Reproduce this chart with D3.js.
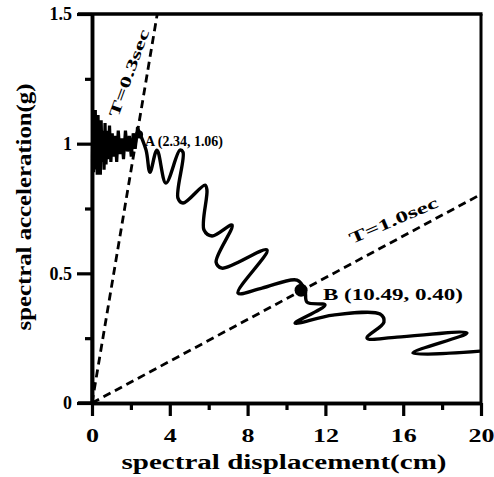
<!DOCTYPE html>
<html>
<head>
<meta charset="utf-8">
<script src="https://cdn.jsdelivr.net/npm/d3@7"></script>
<style>
  html, body { margin: 0; padding: 0; background: #fff; }
  svg { display: block; }
  text { font-family: "Liberation Serif", "Times New Roman", serif; font-weight: bold; fill: #000; }
</style>
</head>
<body>
<script>
// ---------- data ----------
const xTicks = [0, 4, 8, 12, 16, 20];
const xMinorTicks = [2, 6, 10, 14, 18];
const yTicks = [0, 0.5, 1, 1.5];
const yTickLabels = ["0", "0.5", "1", "1.5"];
const yMinorTicks = [0.25, 0.75, 1.25];

// noisy short-period part of the demand curve (Sd cm, Sa g)
const noisySd = [0, 0.02, 0.05, 0.08, 0.11, 0.14, 0.17, 0.20, 0.23, 0.27, 0.31, 0.35, 0.39, 0.43, 0.47, 0.52, 0.57, 0.62, 0.67, 0.72, 0.78, 0.84, 0.90, 0.97, 1.04, 1.11, 1.19, 1.27, 1.35, 1.44, 1.53, 1.62, 1.72, 1.82, 1.92, 2.02, 2.12, 2.22, 2.34];
const noisySa = [0, 0.95, 1.12, 0.89, 1.10, 0.91, 1.13, 0.90, 1.08, 0.88, 1.11, 0.92, 1.06, 0.88, 1.09, 0.93, 1.05, 0.90, 1.08, 0.92, 1.05, 0.94, 1.07, 0.93, 1.04, 0.95, 1.03, 0.93, 1.05, 0.96, 1.02, 0.94, 1.05, 0.97, 1.03, 0.95, 1.04, 0.98, 1.06];

// wavy long-period part of the demand curve
const waveSd = [2.34, 2.78, 2.98, 3.34, 3.80, 4.52, 4.68, 4.42, 4.68, 5.81, 5.91, 5.76, 6.17, 7.20, 6.38, 6.68, 9.00, 7.51, 8.74, 10.54, 10.95, 11.05, 11.98, 10.44, 12.39, 14.81, 15.01, 14.14, 15.68, 19.28, 16.50, 19.95];
const waveSa = [1.06, 0.975, 0.890, 0.975, 0.848, 0.975, 0.967, 0.790, 0.771, 0.840, 0.821, 0.667, 0.644, 0.686, 0.543, 0.520, 0.590, 0.424, 0.443, 0.474, 0.435, 0.389, 0.378, 0.308, 0.339, 0.343, 0.312, 0.250, 0.254, 0.270, 0.193, 0.200];

// constant-period radial lines
const periods = [0.3, 1.0];
const periodLabels = ["T=0.3sec", "T=1.0sec"];

// performance points (marker positions)
const ptLabels = ["A (2.34, 1.06)", "B (10.49, 0.40)"];
const ptSd = [2.42, 10.75];
const ptSa = [1.035, 0.435];

// ---------- chart ----------
const W = 494, H = 477;
const svg = d3.select("body").append("svg").attr("width", W).attr("height", H);

const x = d3.scaleLinear().domain([0, 20]).range([92, 481]);
const y = d3.scaleLinear().domain([0, 1.5]).range([403, 14]);

const g = 9.81;
function saFromSd(sd, T) { const w = 2 * Math.PI / T; return w * w * sd / 100 / g; }

// constant-period dashed lines
periods.forEach((T, i) => {
  let sdEnd = 20;
  if (saFromSd(sdEnd, T) > 1.5) sdEnd = 1.5 / saFromSd(1, T);
  svg.append("line")
    .attr("x1", x(0)).attr("y1", y(0))
    .attr("x2", x(sdEnd)).attr("y2", y(saFromSd(sdEnd, T)))
    .attr("stroke", "#000").attr("stroke-width", 2.8)
    .attr("stroke-dasharray", "8,5");
});

// labels for period lines
function lineAngle(T) {
  const dx = x(1) - x(0), dy = y(saFromSd(1, T)) - y(0);
  return Math.atan2(dy, dx) * 180 / Math.PI;
}
svg.append("text")
  .attr("transform", `translate(118,118) rotate(-70)`)
  .attr("font-size", 15)
  .attr("textLength", 92).attr("lengthAdjust", "spacingAndGlyphs")
  .text(periodLabels[0]);
svg.append("text")
  .attr("transform", `translate(352,244) rotate(${lineAngle(1.0) + 5})`)
  .attr("font-size", 16)
  .attr("textLength", 95).attr("lengthAdjust", "spacingAndGlyphs")
  .text(periodLabels[1]);

// demand curve
const noisy = noisySd.map((d, i) => [d, noisySa[i]]);
const wave = waveSd.map((d, i) => [d, waveSa[i]]);
svg.append("path")
  .attr("d", d3.line().x(d => x(d[0])).y(d => y(d[1]))(noisy))
  .attr("fill", "none").attr("stroke", "#000").attr("stroke-width", 3.2)
  .attr("stroke-linejoin", "miter");
svg.append("path")
  .attr("d", d3.line().x(d => x(d[0])).y(d => y(d[1])).curve(d3.curveCatmullRom.alpha(0.5))(wave))
  .attr("fill", "none").attr("stroke", "#000").attr("stroke-width", 3.4)
  .attr("stroke-linejoin", "round").attr("stroke-linecap", "round");

// performance points
const radii = [4, 6.5];
ptSd.forEach((sd, i) => {
  svg.append("circle").attr("cx", x(sd)).attr("cy", y(ptSa[i])).attr("r", radii[i]).attr("fill", "#000");
});
svg.append("text").attr("x", 145).attr("y", 146).attr("font-size", 15)
  .attr("textLength", 78).attr("lengthAdjust", "spacingAndGlyphs").text(ptLabels[0]);
svg.append("text").attr("x", 323).attr("y", 300).attr("font-size", 17)
  .attr("textLength", 140).attr("lengthAdjust", "spacingAndGlyphs").text(ptLabels[1]);

// frame (top and right)
svg.append("line").attr("x1", 78).attr("x2", x(20) + 1.5).attr("y1", y(1.5)).attr("y2", y(1.5))
  .attr("stroke", "#000").attr("stroke-width", 3.5);
svg.append("line").attr("x1", x(20)).attr("x2", x(20)).attr("y1", y(1.5)).attr("y2", y(0))
  .attr("stroke", "#000").attr("stroke-width", 3);

// axes
const xAxis = svg.append("g").attr("transform", `translate(0,${y(0)})`)
  .call(d3.axisBottom(x).tickValues(xTicks).tickSize(13).tickPadding(13).tickSizeOuter(0).tickFormat(d3.format("d")));
svg.append("g").attr("transform", `translate(0,${y(0)})`)
  .call(d3.axisBottom(x).tickValues(xMinorTicks).tickSize(7).tickSizeOuter(0).tickFormat(""));
const yAxis = svg.append("g").attr("transform", `translate(${x(0)},0)`)
  .call(d3.axisLeft(y).tickValues(yTicks).tickSize(15).tickPadding(5).tickSizeOuter(0)
    .tickFormat((d, i) => yTickLabels[i]));
svg.append("g").attr("transform", `translate(${x(0)},0)`)
  .call(d3.axisLeft(y).tickValues(yMinorTicks).tickSize(7).tickSizeOuter(0).tickFormat(""));

svg.selectAll(".domain").attr("stroke", "#000").attr("stroke-width", 3.5);
svg.selectAll(".tick line").attr("stroke", "#000").attr("stroke-width", 3.2);
svg.selectAll(".tick text")
  .attr("font-family", "Liberation Serif, Times New Roman, serif")
  .attr("font-weight", "bold").attr("font-size", 18).attr("fill", "#000");
xAxis.selectAll(".tick text").each(function(d) {
  const s = String(d);
  d3.select(this).attr("textLength", s.length * 13).attr("lengthAdjust", "spacingAndGlyphs");
});
// extend x-axis line slightly left
svg.append("line").attr("x1", 78).attr("x2", x(0)).attr("y1", y(0)).attr("y2", y(0))
  .attr("stroke", "#000").attr("stroke-width", 3.5);

// axis titles
svg.append("text").attr("x", 284).attr("y", 469).attr("text-anchor", "middle")
  .attr("font-size", 20).attr("textLength", 325).attr("lengthAdjust", "spacingAndGlyphs")
  .text("spectral displacement(cm)");
svg.append("text").attr("transform", "translate(31,207) rotate(-90)").attr("text-anchor", "middle")
  .attr("font-size", 20).attr("textLength", 247).attr("lengthAdjust", "spacingAndGlyphs")
  .text("spectral acceleration(g)");
</script>
</body>
</html>
